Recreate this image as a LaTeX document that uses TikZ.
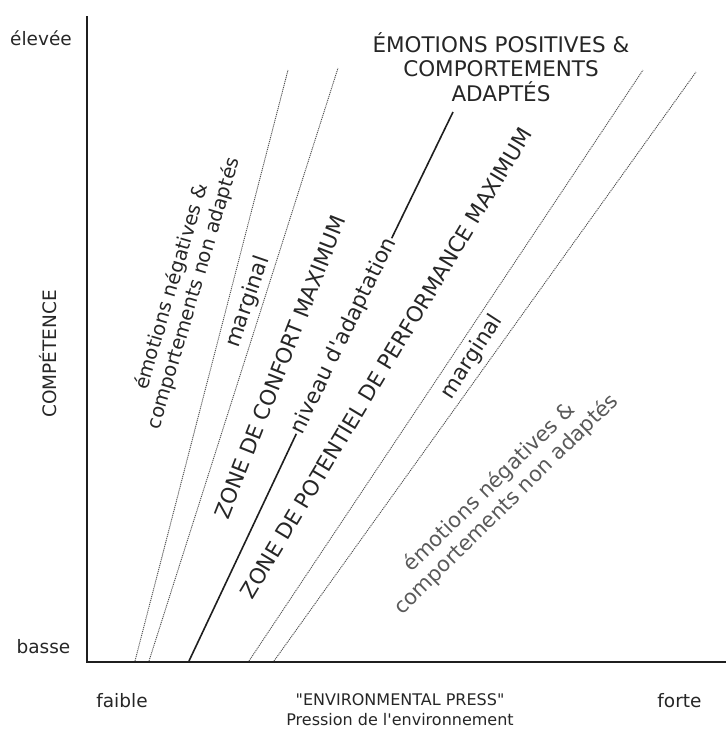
\documentclass[tikz,border=0pt]{standalone}
\usepackage{fontspec}
\setmainfont{DejaVu Sans}[Ligatures=TeXOff]
\begin{document}
\begin{tikzpicture}[x=1pt,y=-1pt,
  axis/.style={line width=2.6pt, draw=black!88, line join=miter},
  zoneline/.style={line width=0.9pt, draw=black!70, dash pattern=on 1.1pt off 0.9pt},
  adaptline/.style={line width=1.6pt, draw=black!88},
  lab/.style={text=black!85, inner sep=0pt},
  axlab/.style={lab, font=\fontsize{18.5}{22}\selectfont, anchor=base},
  rotlab/.style={lab, font=\fontsize{21.5}{25}\selectfont, anchor=center},
]
\useasboundingbox (0,0) rectangle (726,729);
% axes
\coordinate (ytop) at (87,16);
\coordinate (origin) at (87,662);
\coordinate (xend) at (726,662);
\draw[axis] (ytop) -- (origin) -- (xend);
% zone boundary lines
\coordinate (b1) at (135,661); \coordinate (t1) at (288,70);
\coordinate (b2) at (149,661); \coordinate (t2) at (338,68);
\coordinate (b3) at (189,661); \coordinate (t3) at (453,112);
\coordinate (b4) at (249,661); \coordinate (t4) at (643,70);
\coordinate (b5) at (274,661); \coordinate (t5) at (696,72);
\draw[zoneline] (b1) -- (t1);
\draw[zoneline] (b2) -- (t2);
\draw[zoneline] (b4) -- (t4);
\draw[zoneline] (b5) -- (t5);
% adaptation level line with its label
\node[rotlab, rotate=64, inner xsep=1pt] (niv) at (344,336) {niveau d'adaptation};
\draw[adaptline] (b3) -- (niv.west);
\draw[adaptline] (niv.east) -- (t3);
% axis labels
\node[axlab] (high) at (41,45) {élevée};
\node[axlab] (low) at (43.5,653) {basse};
\node[axlab] (weak) at (122,707) {faible};
\node[axlab] (strong) at (679.5,707) {forte};
\node[lab, font=\fontsize{18.5}{22}\selectfont, rotate=90] (comp) at (48,354) {COMPÉTENCE};
\node[lab, font=\fontsize{16}{20}\selectfont, align=center] (press) at (400,710) {"ENVIRONMENTAL PRESS"\\Pression de l'environnement};
% title
\node[lab, font=\fontsize{21.5}{24.5}\selectfont, align=center] (title) at (501,67) {ÉMOTIONS POSITIVES \&\\COMPORTEMENTS\\ADAPTÉS};
% zone labels
\node[rotlab, font=\fontsize{19.5}{23}\selectfont, align=center, rotate=73.5] (negl) at (183,290) {émotions négatives \&\\comportements non adaptés};
\node[rotlab, rotate=71] (margl) at (248,302) {marginal};
\node[rotlab, rotate=68.5] (confort) at (280,367) {ZONE DE CONFORT MAXIMUM};
\node[rotlab, rotate=59] (perf) at (386,363) {ZONE DE POTENTIEL DE PERFORMANCE MAXIMUM};
\node[rotlab, rotate=57] (margr) at (472,357) {marginal};
\node[rotlab, font=\fontsize{21}{24}\selectfont, align=center, rotate=44.5, text=black!65] (negr) at (498,496) {émotions négatives \&\\comportements non adaptés};
\end{tikzpicture}
\end{document}
